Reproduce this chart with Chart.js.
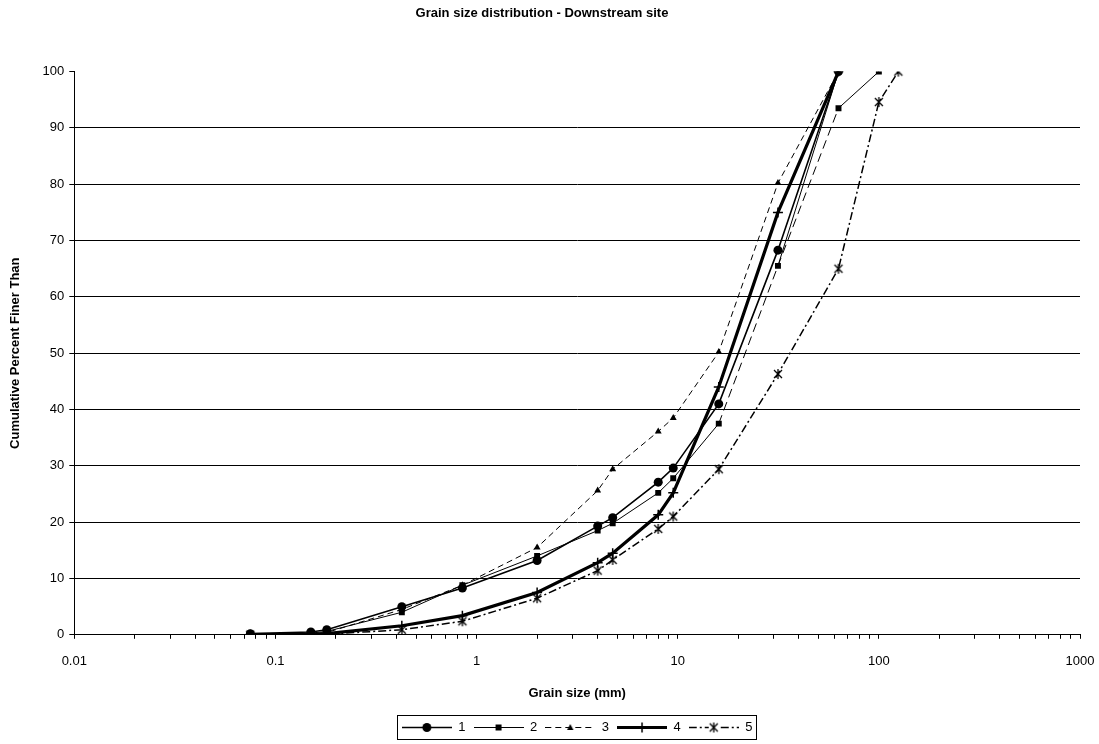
<!DOCTYPE html>
<html>
<head>
<meta charset="utf-8">
<script src="https://cdn.jsdelivr.net/npm/chart.js@4"></script>
<style>
html,body{margin:0;padding:0;background:#fff;}
#wrap{width:1099px;height:744px;position:relative;}
</style>
</head>
<body>
<div id="wrap"><canvas id="c" width="1099" height="744"></canvas></div>
<script>
// ---- data ----
const chartTitle = 'Grain size distribution - Downstream site';
const xAxisTitle = 'Grain size (mm)';
const yAxisTitle = 'Cumulative Percent Finer Than';
const seriesNames = ['1', '2', '3', '4', '5'];

const sizes1 = [0.075, 0.15, 0.18, 0.425, 0.85, 2, 4, 4.75, 8, 9.5, 16, 31.5, 63];
const finer1 = [0.2, 0.5, 0.9, 5.0, 8.3, 13.2, 19.3, 20.8, 27.1, 29.6, 41.0, 68.3, 100];

const sizes2 = [0.075, 0.15, 0.18, 0.425, 0.85, 2, 4, 4.75, 8, 9.5, 16, 31.5, 63, 100];
const finer2 = [0.2, 0.3, 0.6, 4.0, 8.8, 14.0, 18.5, 19.8, 25.2, 27.8, 37.5, 65.5, 93.5, 100];

const sizes3 = [0.075, 0.15, 0.18, 0.425, 0.85, 2, 4, 4.75, 8, 9.5, 16, 31.5, 63];
const finer3 = [0.1, 0.2, 0.4, 4.5, 8.8, 15.5, 25.6, 29.4, 36.1, 38.5, 50.2, 80.2, 100];

const sizes4 = [0.075, 0.15, 0.18, 0.425, 0.85, 2, 4, 4.75, 8, 9.5, 16, 31.5, 63];
const finer4 = [0.0, 0.1, 0.2, 1.6, 3.4, 7.5, 12.8, 14.5, 21.3, 25.2, 44.0, 75.0, 100];

const sizes5 = [0.075, 0.15, 0.18, 0.425, 0.85, 2, 4, 4.75, 8, 9.5, 16, 31.5, 63, 100, 125];
const finer5 = [0.0, 0.0, 0.1, 0.9, 2.4, 6.5, 11.4, 13.3, 18.8, 21.0, 29.4, 46.3, 65.0, 94.6, 100];

// extra unlabeled line visible in the picture (no legend entry)
const sizesExtra = [31.5, 63];
const finerExtra = [65.5, 100];

const xMajorTicks = [0.01, 0.1, 1, 10, 100, 1000];
const xTickLabels = ['0.01', '0.1', '1', '10', '100', '1000'];
const yMin = 0, yMax = 100, yStep = 10;

// ---- helpers ----
function pts(xs, ys) { return xs.map((x, i) => ({x: x, y: ys[i]})); }

function asteriskCanvas(r, lw) {
  const s = Math.ceil(r * 2 + 2);
  const c = document.createElement('canvas');
  c.width = s; c.height = s;
  const g = c.getContext('2d');
  const m = s / 2;
  g.strokeStyle = '#000'; g.lineWidth = lw;
  g.beginPath();
  g.moveTo(m - r * 0.8, m - r * 0.8); g.lineTo(m + r * 0.8, m + r * 0.8);
  g.moveTo(m + r * 0.8, m - r * 0.8); g.lineTo(m - r * 0.8, m + r * 0.8);
  g.moveTo(m, m - r); g.lineTo(m, m + r);
  g.stroke();
  return c;
}
const asterisk = asteriskCanvas(5, 1.3);

function legendSample(kind, lw, dash) {
  const w = 50, h = 13;
  const c = document.createElement('canvas');
  c.width = w; c.height = h;
  const g = c.getContext('2d');
  const cy = 6.5, cx = 25;
  g.strokeStyle = '#000'; g.fillStyle = '#000';
  g.lineWidth = lw; g.setLineDash(dash);
  g.beginPath(); g.moveTo(0, cy); g.lineTo(w, cy); g.stroke();
  g.setLineDash([]);
  if (kind === 'circle') { g.beginPath(); g.arc(cx, cy, 4.5, 0, Math.PI * 2); g.fill(); }
  else if (kind === 'rect') { g.fillRect(cx - 3, cy - 3, 6, 6); }
  else if (kind === 'triangle') { g.beginPath(); g.moveTo(cx, cy - 3.5); g.lineTo(cx + 3.2, cy + 2.5); g.lineTo(cx - 3.2, cy + 2.5); g.closePath(); g.fill(); }
  else if (kind === 'cross') { g.lineWidth = 1.5; g.beginPath(); g.moveTo(cx - 5, cy); g.lineTo(cx + 5, cy); g.moveTo(cx, cy - 5); g.lineTo(cx, cy + 5); g.stroke(); }
  else if (kind === 'asterisk') { g.fillStyle = '#fff'; g.fillRect(cx - 5, cy - 5, 10, 10); g.drawImage(asterisk, cx - asterisk.width / 2, cy - asterisk.height / 2); }
  return c;
}

const legendStyles = [
  legendSample('circle', 1.5, []),
  legendSample('rect', 1, []),
  legendSample('triangle', 1, [6, 4]),
  legendSample('cross', 3.2, []),
  legendSample('asterisk', 1.5, [8, 3, 2, 3])
];

const FONT = "'Liberation Sans', Arial, Helvetica, sans-serif";
Chart.defaults.font.family = FONT;
Chart.defaults.color = '#000';

const legendBoxPlugin = {
  id: 'legendBox',
  afterDraw(chart) {
    const lg = chart.legend;
    if (!lg || !lg.legendHitBoxes || !lg.legendHitBoxes.length) return;
    const hb = lg.legendHitBoxes;
    const l = Math.min(...hb.map(h => h.left));
    const r = Math.max(...hb.map(h => h.left + h.width));
    const t = Math.min(...hb.map(h => h.top));
    const b = Math.max(...hb.map(h => h.top + h.height));
    const ctx = chart.ctx;
    ctx.save();
    ctx.strokeStyle = '#000'; ctx.lineWidth = 1;
    ctx.strokeRect(Math.round(l - 5) + 0.5, Math.round(t - 6) + 0.5, Math.round(r - l + 8), Math.round(b - t + 11));
    ctx.restore();
  }
};

const dashFrom16 = (ctx) => (ctx.p0DataIndex >= 10 && ctx.p0DataIndex <= 11) ? [9, 5] : undefined;

const chart = new Chart(document.getElementById('c'), {
  type: 'scatter',
  data: {
    datasets: [
      { label: seriesNames[0], data: pts(sizes1, finer1), showLine: true, borderColor: '#000', backgroundColor: '#000',
        borderWidth: 1.6, pointStyle: 'circle', pointRadius: 4.5, pointBorderWidth: 0, pointBackgroundColor: '#000' },
      { label: seriesNames[1], data: pts(sizes2, finer2), showLine: true, borderColor: '#000', backgroundColor: '#000',
        borderWidth: 1, pointStyle: 'rect', pointRadius: 4.2, pointBorderWidth: 0, pointBackgroundColor: '#000',
        segment: { borderDash: dashFrom16 } },
      { label: seriesNames[2], data: pts(sizes3, finer3), showLine: true, borderColor: '#000', backgroundColor: '#000',
        borderWidth: 1, borderDash: [6, 4], pointStyle: 'triangle', pointRadius: 4, pointBorderWidth: 0, pointBackgroundColor: '#000' },
      { label: seriesNames[3], data: pts(sizes4, finer4), showLine: true, borderColor: '#000', backgroundColor: '#000',
        borderWidth: 3.2, pointStyle: 'cross', pointRadius: 5, pointBorderWidth: 1.5, pointBorderColor: '#000' },
      { label: seriesNames[4], data: pts(sizes5, finer5), showLine: true, borderColor: '#000', backgroundColor: '#000',
        borderWidth: 1.5, borderDash: [8, 3, 2, 3], pointStyle: asterisk, pointRadius: 5 },
      { label: '', data: pts(sizesExtra, finerExtra), showLine: true, borderColor: '#000', borderWidth: 1,
        pointRadius: 0, pointHoverRadius: 0 }
    ]
  },
  options: {
    responsive: false,
    animation: false,
    events: [],
    layout: { padding: { left: 4, right: 19, top: 0, bottom: 0 } },
    elements: { line: { tension: 0 } },
    scales: {
      x: {
        type: 'logarithmic',
        min: 0.01, max: 1000,
        afterBuildTicks(scale) {
          const vals = [];
          for (let i = 0; i < xMajorTicks.length; i++) {
            const d = xMajorTicks[i];
            vals.push(d);
            if (i < xMajorTicks.length - 1) for (let k = 2; k <= 9; k++) vals.push(+(d * k).toPrecision(6));
          }
          scale.ticks = vals.map(v => ({ value: v }));
        },
        afterFit(scale) { scale.paddingRight = 0; scale.paddingLeft = 0; },
        ticks: {
          autoSkip: false, maxRotation: 0, minRotation: 0, padding: 15,
          font: { size: 13 }, color: '#000',
          callback(value) {
            const i = xMajorTicks.findIndex(m => Math.abs(m - value) / m < 1e-6);
            return i >= 0 ? xTickLabels[i] : '';
          }
        },
        grid: { display: true, drawOnChartArea: false, drawTicks: true, tickLength: 4, color: '#000', tickColor: '#000' },
        border: { display: true, color: '#000', width: 1 },
        title: { display: true, text: xAxisTitle, font: { size: 13, weight: 'bold' }, color: '#000', padding: { top: 1, bottom: 12 } }
      },
      y: {
        type: 'linear',
        min: yMin, max: yMax,
        ticks: { stepSize: yStep, padding: 5, font: { size: 13 }, color: '#000' },
        grid: {
          drawTicks: true, tickLength: 5, tickColor: '#000',
          color: (c) => (c.tick && c.tick.value === yMax) ? 'rgba(0,0,0,0)' : '#000',
          lineWidth: 1
        },
        border: { display: true, color: '#000', width: 1 },
        title: { display: true, text: yAxisTitle, font: { size: 13, weight: 'bold' }, color: '#000', padding: { top: 4, bottom: 14 } }
      }
    },
    plugins: {
      title: { display: true, text: chartTitle, font: { size: 13, weight: 'bold' }, color: '#000', padding: { top: 6, bottom: 50 } },
      legend: {
        display: true, position: 'bottom', align: 'center', fullSize: false,
        labels: {
          usePointStyle: true, pointStyleWidth: 50, padding: 8,
          font: { size: 13 }, color: '#000',
          filter: (item) => item.text !== '',
          generateLabels(chart) {
            return seriesNames.map((n, i) => ({
              text: n, datasetIndex: i, hidden: false, pointStyle: legendStyles[i],
              fillStyle: '#000', strokeStyle: '#000', lineWidth: 0, fontColor: '#000'
            }));
          }
        }
      },
      tooltip: { enabled: false }
    }
  },
  plugins: [legendBoxPlugin]
});
</script>
</body>
</html>
